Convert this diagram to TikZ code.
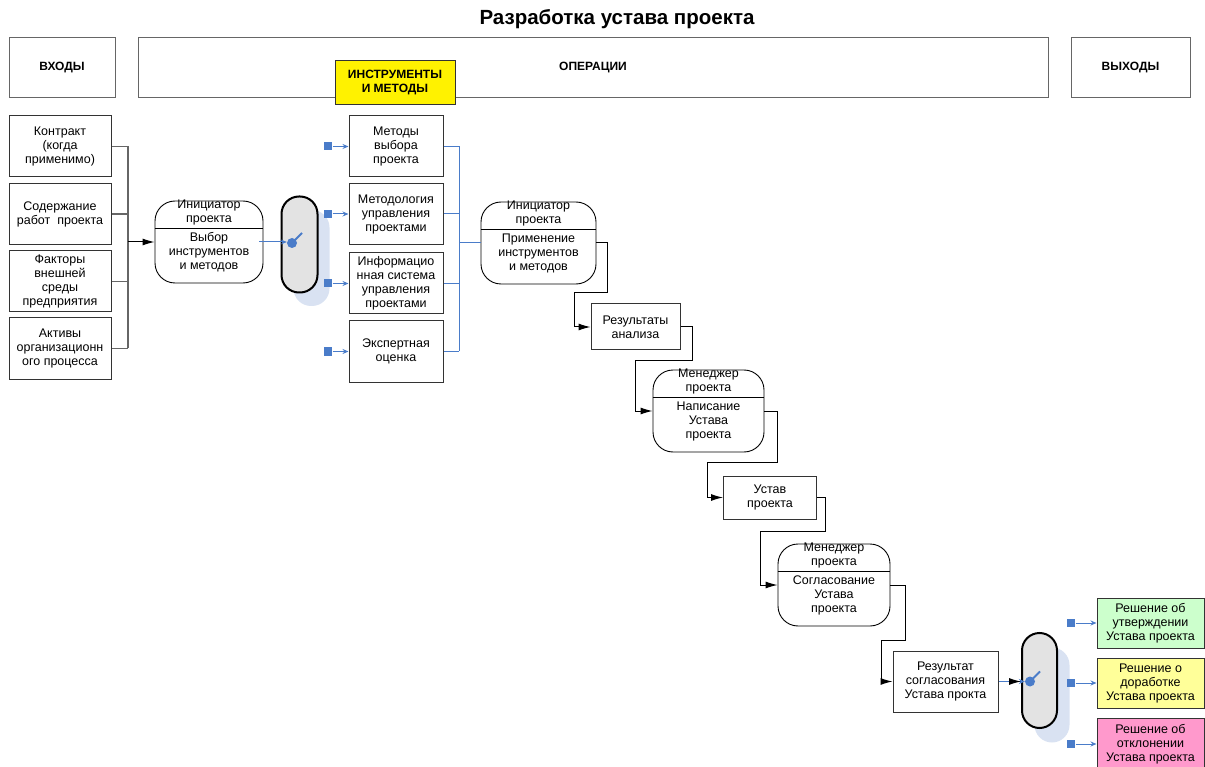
\documentclass[tikz,border=0pt]{standalone}
\usepackage{fontspec}
\setmainfont{Liberation Sans}
\usetikzlibrary{positioning,arrows.meta}
\definecolor{linkblue}{HTML}{4A7CC9}
\definecolor{shadowblue}{HTML}{D9E2F2}
\definecolor{gategray}{HTML}{E3E3E3}
\definecolor{okgreen}{HTML}{CCFFCC}
\definecolor{redoyellow}{HTML}{FFFF99}
\definecolor{rejectpink}{HTML}{FF99CC}
\tikzset{
    txt/.style={font=\fontsize{12.5}{14}\selectfont, align=center},
    box/.style={txt, draw=black!80, line width=1pt, inner sep=0pt},
    head/.style={draw=black!60, line width=1pt, font=\bfseries\fontsize{12}{14}\selectfont},
    role/.style={draw, rounded corners=20pt, line width=0.9pt, minimum height=82pt},
    gate/.style={draw, fill=gategray, rounded corners=17.5pt, line width=2pt, minimum width=36pt, minimum height=96pt, inner sep=0pt},
    gateshadow/.style={fill=shadowblue, rounded corners=17.5pt, minimum width=36pt, minimum height=96pt, inner sep=0pt},
    flow/.style={line width=1pt, -{Latex[length=12pt,width=7pt]}},
    bus/.style={linkblue, line width=1pt},
    feed/.style={linkblue, line width=1pt, -{Stealth[length=6pt,width=5pt]}},
    marker/.style={fill=linkblue, minimum size=8pt, inner sep=0pt},
    knob/.style={circle, fill=linkblue, minimum size=10pt, inner sep=0pt},
}
\begin{document}
\begin{tikzpicture}[x=1pt, y=-1pt]
    \useasboundingbox (0,0) rectangle (1205,767);
    \node[font=\bfseries\fontsize{20.5}{24}\selectfont] (title) at (617,19) {Разработка устава проекта};
    % headers
    \node[head, minimum width=106pt, minimum height=60pt] (hin) at (62,68) {ВХОДЫ};
    \node[head, minimum width=910pt, minimum height=60pt] (hops) at (593,68) {ОПЕРАЦИИ};
    \node[head, minimum width=119pt, minimum height=60pt] (hout) at (1130.5,68) {ВЫХОДЫ};
    \node[box, fill=yellow, font=\bfseries\fontsize{12}{14}\selectfont, minimum width=120pt, minimum height=44pt] (tools) at (395,83) {ИНСТРУМЕНТЫ\\И МЕТОДЫ};
    % inputs
    \foreach \n/\y/\t in {1/146.5/{Контракт\\(когда\\применимо)}, 2/214/{Содержание\\работ~ проекта}, 3/281.5/{Факторы\\внешней\\среды\\предприятия}, 4/348.5/{Активы\\организационн\\ого процесса}}
        \node[box, minimum width=102pt, minimum height=61pt] (in\n) at (60,\y) {\t};
    \coordinate (injoin) at (128,242);
    \foreach \n in {1,...,4}
        \draw[black!60, line width=1.2pt] (in\n.east) -- (in\n.east -| injoin);
    \draw[black!60, line width=1.2pt] (in1.east -| injoin) -- (in4.east -| injoin);
    % roles
    \foreach \r/\x/\y/\w/\who/\what in {init1/209/242/108/{Инициатор\\проекта}/{Выбор\\инструментов\\и методов}, init2/538.5/243/115/{Инициатор\\проекта}/{Применение\\инструментов\\и методов}, write/708.5/411/111/{Менеджер\\проекта}/{Написание\\Устава\\проекта}, agree/834/585/112/{Менеджер\\проекта}/{Согласование\\Устава\\проекта}}
    {
        \node[role, minimum width=\w] (\r) at (\x,\y) {};
        \draw[line width=0.9pt] ([yshift=-28pt]\r.north west) -- ([yshift=-28pt]\r.north east);
        \node[txt] (\r-who) at ([yshift=-12pt]\r.north) {\who};
        \node[txt] (\r-what) at ([yshift=-52pt]\r.north) {\what};
    }
    \draw[flow] (injoin) -- (init1);
    % first gate
    \node[gateshadow] at (311.5,258) {};
    \node[gate] (gate1) at (299.5,244.5) {};
    \node[knob] (sw1) at (292,243) {};
    \draw[linkblue, line width=2pt] (sw1.center) -- ++(10,-10);
    \draw[feed] ([xshift=-4pt]init1.east) -- (init1.east -| sw1.west);
    % tools and techniques
    \foreach \n/\y/\t in {1/146.5/{Методы\\выбора\\проекта}, 2/214/{Методология\\управления\\проектами}, 3/283.5/{Информацио\\нная система\\управления\\проектами}, 4/351.5/{Экспертная\\оценка}}
    {
        \node[box, minimum width=94pt, minimum height=61pt] (tool\n) at (396,\y) {\t};
        \node[marker, left=16pt of tool\n] (mark\n) {};
        \draw[feed] (mark\n) -- (tool\n);
    }
    \coordinate (tooljoin) at (459,243);
    \foreach \n in {1,...,4}
        \draw[bus] (tool\n.east) -- (tool\n.east -| tooljoin);
    \draw[bus] (tool1.east -| tooljoin) -- (tool4.east -| tooljoin);
    \draw[bus] (tooljoin) -- (init2.west);
    % documents
    \node[box, minimum width=89pt, minimum height=46pt] (res1) at (635.5,327) {Результаты\\анализа};
    \node[box, minimum width=93pt, minimum height=43pt] (charter) at (770,497.5) {Устав\\проекта};
    \node[box, minimum width=105pt, minimum height=61pt] (res2) at (945.5,681.5) {Результат\\согласования\\Устава прокта};
    \foreach \a/\b/\dx/\dy/\dl in {init2/res1/11/50/16, res1/write/12/33/17, write/charter/13/51/15.5, charter/agree/8/33.5/17, agree/res2/15/55/11}
        \draw[flow] (\a.east) -- ++(\dx,0) -- ++(0,\dy) -| ([xshift=-\dl pt]\b.west) -- (\b.west);
    % second gate
    \node[gateshadow, minimum width=35pt, minimum height=95pt] at (1052,695) {};
    \node[gate, minimum width=35pt, minimum height=95pt] (gate2) at (1039.5,680.5) {};
    \node[knob] (sw2) at (1030,681.5) {};
    \draw[linkblue, line width=2pt] (sw2.center) -- ++(10,-10);
    \draw[feed] (res2.east) -- (sw2);
    \draw[flow, shorten <=10pt] (res2.east) -- (res2.east -| gate2.west);
    % outputs
    \foreach \n/\y/\h/\c/\t in {1/623/50/okgreen/{Решение об\\утверждении\\Устава проекта}, 2/683/50/redoyellow/{Решение о\\доработке\\Устава проекта}, 3/744/52/rejectpink/{Решение об\\отклонении\\Устава проекта}}
    {
        \node[box, fill=\c, minimum width=107pt, minimum height=\h] (out\n) at (1150.5,\y) {\t};
        \node[marker, left=21pt of out\n] (omark\n) {};
        \draw[feed] (omark\n) -- (out\n);
    }
\end{tikzpicture}
\end{document}
